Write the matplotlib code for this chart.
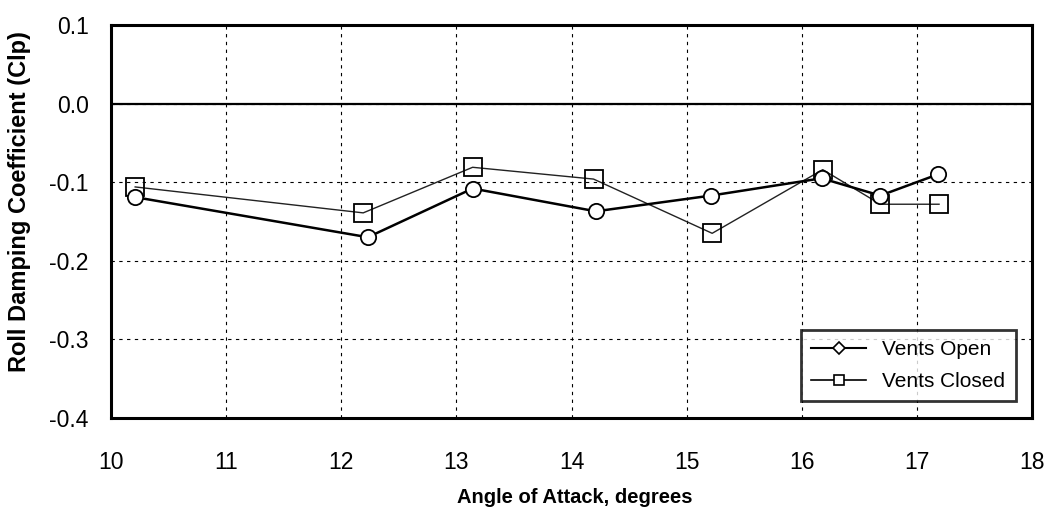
import matplotlib
matplotlib.use('Agg')
import matplotlib.pyplot as plt
from matplotlib.lines import Line2D

plt.rcParams['font.family'] = ['Liberation Sans', 'DejaVu Sans']

# data
aoa_open = [10.21, 12.23, 13.14, 14.21, 15.21, 16.17, 16.68, 17.18]
clp_open = [-0.119, -0.170, -0.108, -0.137, -0.117, -0.095, -0.117, -0.090]

aoa_closed = [10.21, 12.19, 13.14, 14.19, 15.22, 16.18, 16.68, 17.19]
clp_closed = [-0.106, -0.139, -0.081, -0.096, -0.165, -0.084, -0.128, -0.128]

xticks = [10, 11, 12, 13, 14, 15, 16, 17, 18]
yticks = [-0.4, -0.3, -0.2, -0.1, 0.0, 0.1]

fig = plt.figure(figsize=(10.47, 5.11), dpi=100)
ax = fig.add_axes([0.106, 0.182, 0.880, 0.769])

ax.plot(aoa_open, clp_open, color='black', lw=1.8, marker='o', ms=11,
        mfc='white', mec='black', mew=1.3, zorder=4)
ax.plot(aoa_closed, clp_closed, color='#222222', lw=1.0, marker='s', ms=13,
        mfc='none', mec='black', mew=1.3, zorder=3)

ax.axhline(0, color='black', lw=1.6, zorder=2)

ax.set_xlim(10, 18)
ax.set_ylim(-0.4, 0.1)
ax.set_xticks(xticks)
ax.set_yticks(yticks)
ax.set_yticklabels(['%.1f' % v for v in yticks])
ax.grid(True, color='black', ls=(0, (3, 4)), lw=0.8)
ax.set_axisbelow(True)
ax.tick_params(length=0, labelsize=16.5)
ax.tick_params(axis='x', pad=24)
ax.tick_params(axis='y', pad=16)
for s in ax.spines.values():
    s.set_linewidth(2.2)

ax.set_xlabel('Angle of Attack, degrees', fontsize=14.5, fontweight='bold')
ax.xaxis.set_label_coords(0.503, -0.178)
ax.set_ylabel('Roll Damping Coefficient (Clp)', fontsize=17, fontweight='bold')
ax.yaxis.set_label_coords(-0.087, 0.55)

# legend shows a diamond for the open case
handles = [
    Line2D([], [], color='black', lw=1.5, marker='D', ms=6, mfc='white', mec='black', mew=1.2),
    Line2D([], [], color='black', lw=1.2, marker='s', ms=7, mfc='white', mec='black', mew=1.2),
]
leg = ax.legend(handles, ['Vents Open', 'Vents Closed'], loc='lower right', fontsize=15,
                frameon=True, fancybox=False, edgecolor='black', borderaxespad=0.8,
                handlelength=2.6, labelspacing=0.6, borderpad=0.5)
leg.get_frame().set_linewidth(2)

fig.savefig('out.png', dpi=100)
